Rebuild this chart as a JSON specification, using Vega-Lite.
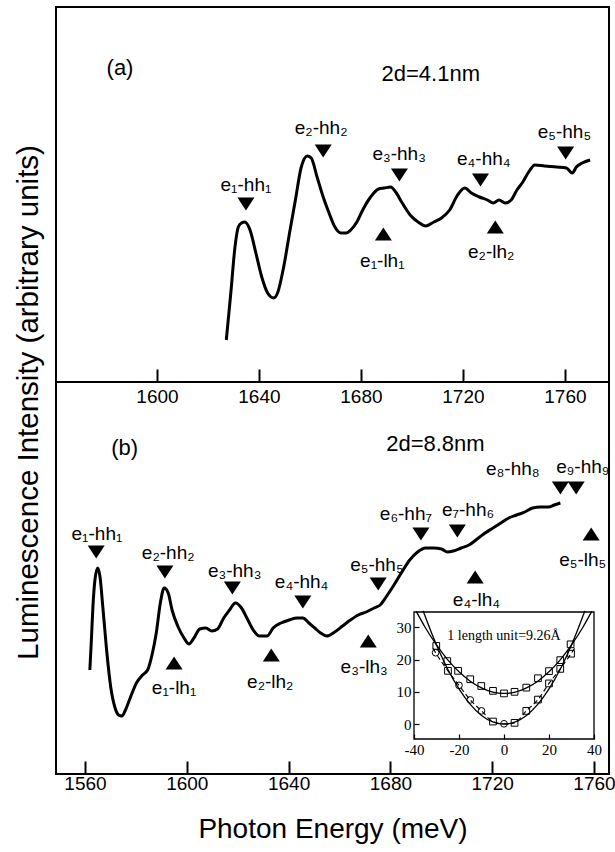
{
  "$schema": "https://vega.github.io/schema/vega-lite/v6.json",
  "padding": {"left": 12, "top": 6, "right": 0, "bottom": 4},
  "background": "white",
  "config": {
    "view": {"stroke": "black", "strokeWidth": 2},
    "font": "Liberation Sans",
    "text": {"font": "Liberation Sans", "color": "black"}
  },
  "datasets": {
    "curveA": [
      {"e": 1627.2, "v": 42}, {"e": 1629.0, "v": 90}, {"e": 1630.6, "v": 135}, {"e": 1631.9, "v": 155}, {"e": 1633.2, "v": 159}, {"e": 1634.4, "v": 160},
      {"e": 1636.5, "v": 152}, {"e": 1638.8, "v": 129}, {"e": 1641.1, "v": 105}, {"e": 1643.4, "v": 89}, {"e": 1645.8, "v": 84}, {"e": 1647.3, "v": 89},
      {"e": 1649.7, "v": 115}, {"e": 1652.0, "v": 149}, {"e": 1654.3, "v": 182}, {"e": 1656.6, "v": 215}, {"e": 1659.0, "v": 226}, {"e": 1660.5, "v": 224},
      {"e": 1662.8, "v": 205}, {"e": 1665.2, "v": 185}, {"e": 1667.5, "v": 169}, {"e": 1669.8, "v": 155}, {"e": 1672.2, "v": 149}, {"e": 1674.2, "v": 149},
      {"e": 1676.0, "v": 152}, {"e": 1678.4, "v": 160}, {"e": 1680.7, "v": 172}, {"e": 1683.8, "v": 185}, {"e": 1686.9, "v": 193}, {"e": 1689.2, "v": 194},
      {"e": 1691.6, "v": 195}, {"e": 1693.9, "v": 189}, {"e": 1696.2, "v": 179}, {"e": 1699.3, "v": 167}, {"e": 1702.4, "v": 160}, {"e": 1705.5, "v": 156},
      {"e": 1708.6, "v": 160}, {"e": 1711.6, "v": 164}, {"e": 1714.8, "v": 172}, {"e": 1717.9, "v": 187}, {"e": 1720.7, "v": 194}, {"e": 1723.3, "v": 189},
      {"e": 1726.5, "v": 185}, {"e": 1729.6, "v": 182}, {"e": 1731.9, "v": 179}, {"e": 1734.2, "v": 182}, {"e": 1736.6, "v": 179}, {"e": 1738.9, "v": 182},
      {"e": 1741.2, "v": 192}, {"e": 1743.5, "v": 200}, {"e": 1745.8, "v": 210}, {"e": 1748.2, "v": 217}, {"e": 1752.0, "v": 216}, {"e": 1756.7, "v": 215},
      {"e": 1760.6, "v": 214}, {"e": 1762.9, "v": 209}, {"e": 1764.5, "v": 215}, {"e": 1766.8, "v": 219}, {"e": 1769.9, "v": 222}
    ],
    "curveB": [
      {"e": 1561.9, "v": 104}, {"e": 1562.5, "v": 134}, {"e": 1563.1, "v": 167}, {"e": 1563.9, "v": 194}, {"e": 1565.0, "v": 206}, {"e": 1565.9, "v": 197},
      {"e": 1567.0, "v": 167}, {"e": 1568.6, "v": 121}, {"e": 1570.1, "v": 87}, {"e": 1571.7, "v": 67}, {"e": 1573.2, "v": 59}, {"e": 1574.5, "v": 58},
      {"e": 1575.9, "v": 64}, {"e": 1577.9, "v": 77}, {"e": 1580.2, "v": 91}, {"e": 1582.6, "v": 99}, {"e": 1584.6, "v": 104}, {"e": 1586.5, "v": 121},
      {"e": 1588.0, "v": 141}, {"e": 1589.6, "v": 171}, {"e": 1591.1, "v": 186}, {"e": 1592.7, "v": 181}, {"e": 1594.2, "v": 164}, {"e": 1596.6, "v": 147},
      {"e": 1598.9, "v": 136}, {"e": 1600.8, "v": 130}, {"e": 1602.8, "v": 136}, {"e": 1605.1, "v": 145}, {"e": 1607.5, "v": 146}, {"e": 1609.8, "v": 143},
      {"e": 1612.1, "v": 145}, {"e": 1614.5, "v": 156}, {"e": 1616.8, "v": 164}, {"e": 1619.1, "v": 171}, {"e": 1621.5, "v": 166}, {"e": 1623.8, "v": 155},
      {"e": 1626.1, "v": 144}, {"e": 1628.5, "v": 138}, {"e": 1631.6, "v": 138}, {"e": 1633.9, "v": 146}, {"e": 1637.0, "v": 151}, {"e": 1640.2, "v": 154},
      {"e": 1643.3, "v": 156}, {"e": 1645.6, "v": 156}, {"e": 1648.0, "v": 151}, {"e": 1650.3, "v": 146}, {"e": 1652.6, "v": 141}, {"e": 1655.0, "v": 138},
      {"e": 1658.1, "v": 142}, {"e": 1661.2, "v": 148}, {"e": 1664.3, "v": 154}, {"e": 1667.4, "v": 159}, {"e": 1670.5, "v": 162}, {"e": 1673.6, "v": 166},
      {"e": 1676.0, "v": 169}, {"e": 1678.3, "v": 177}, {"e": 1681.4, "v": 189}, {"e": 1684.5, "v": 202}, {"e": 1687.6, "v": 214}, {"e": 1690.7, "v": 222},
      {"e": 1693.8, "v": 226}, {"e": 1697.0, "v": 226}, {"e": 1700.1, "v": 225}, {"e": 1702.4, "v": 222}, {"e": 1704.7, "v": 223}, {"e": 1707.8, "v": 226},
      {"e": 1710.9, "v": 229}, {"e": 1714.1, "v": 235}, {"e": 1717.2, "v": 241}, {"e": 1720.3, "v": 246}, {"e": 1723.4, "v": 251}, {"e": 1726.5, "v": 256},
      {"e": 1729.6, "v": 259}, {"e": 1732.8, "v": 262}, {"e": 1735.9, "v": 266}, {"e": 1739.0, "v": 267}, {"e": 1742.1, "v": 267}, {"e": 1744.4, "v": 269},
      {"e": 1746.8, "v": 271}
    ],
    "markA": [
      {"e": 1634.9, "v": 178, "dir": "down"}, {"e": 1665.2, "v": 231, "dir": "down"}, {"e": 1695.1, "v": 207, "dir": "down"},
      {"e": 1726.9, "v": 202, "dir": "down"}, {"e": 1760.3, "v": 229, "dir": "down"},
      {"e": 1688.8, "v": 148, "dir": "up"}, {"e": 1732.7, "v": 155, "dir": "up"}
    ],
    "labA": [
      {"e": 1634.9, "v": 197, "t": "e₁-hh₁"}, {"e": 1664.4, "v": 254, "t": "e₂-hh₂"}, {"e": 1695.0, "v": 228, "t": "e₃-hh₃"},
      {"e": 1728.2, "v": 223, "t": "e₄-hh₄"}, {"e": 1759.8, "v": 250, "t": "e₅-hh₅"},
      {"e": 1688.4, "v": 121, "t": "e₁-lh₁"}, {"e": 1731.1, "v": 130, "t": "e₂-lh₂"}
    ],
    "tagA": [
      {"e": 1585.5, "v": 314, "t": "(a)"}, {"e": 1707.4, "v": 308, "t": "2d=4.1nm"}
    ],
    "markB": [
      {"e": 1564.4, "v": 222, "dir": "down"}, {"e": 1591.4, "v": 202, "dir": "down"}, {"e": 1617.9, "v": 186, "dir": "down"},
      {"e": 1645.6, "v": 172, "dir": "down"}, {"e": 1675.2, "v": 190, "dir": "down"}, {"e": 1692.0, "v": 240, "dir": "down"},
      {"e": 1706.3, "v": 243, "dir": "down"}, {"e": 1746.8, "v": 286, "dir": "down"}, {"e": 1753.0, "v": 286, "dir": "down"},
      {"e": 1595.0, "v": 111, "dir": "up"}, {"e": 1633.2, "v": 119, "dir": "up"}, {"e": 1671.3, "v": 133, "dir": "up"},
      {"e": 1713.3, "v": 197, "dir": "up"}, {"e": 1758.9, "v": 240, "dir": "up"}
    ],
    "labB": [
      {"e": 1564.7, "v": 240, "t": "e₁-hh₁"}, {"e": 1592.7, "v": 221, "t": "e₂-hh₂"}, {"e": 1618.8, "v": 203, "t": "e₃-hh₃"},
      {"e": 1645.1, "v": 192, "t": "e₄-hh₄"}, {"e": 1674.7, "v": 209, "t": "e₅-hh₅"}, {"e": 1686.1, "v": 260, "t": "e₆-hh₇"},
      {"e": 1710.5, "v": 264, "t": "e₇-hh₆"}, {"e": 1728.1, "v": 305, "t": "e₈-hh₈"}, {"e": 1755.6, "v": 307, "t": "e₉-hh₉"},
      {"e": 1595.0, "v": 86, "t": "e₁-lh₁"}, {"e": 1632.8, "v": 92, "t": "e₂-lh₂"}, {"e": 1669.7, "v": 107, "t": "e₃-lh₃"},
      {"e": 1713.8, "v": 174, "t": "e₄-lh₄"}, {"e": 1755.6, "v": 214, "t": "e₅-lh₅"}
    ],
    "tagB": [
      {"e": 1575.6, "v": 326, "t": "(b)"}, {"e": 1697.7, "v": 330, "t": "2d=8.8nm"}
    ],
    "insetPts": [
      {"ix": -30.1, "iy": 24.2, "s": "sq"}, {"ix": -25.2, "iy": 19.5, "s": "sq"}, {"ix": -20.4, "iy": 16.5, "s": "sq"}, {"ix": -15.0, "iy": 13.9, "s": "sq"},
      {"ix": -10.1, "iy": 11.8, "s": "sq"}, {"ix": -4.9, "iy": 10.3, "s": "sq"}, {"ix": 0, "iy": 9.5, "s": "sq"}, {"ix": 4.7, "iy": 10.0, "s": "sq"},
      {"ix": 9.9, "iy": 11.3, "s": "sq"}, {"ix": 15.1, "iy": 14.2, "s": "sq"}, {"ix": 20.0, "iy": 16.4, "s": "sq"}, {"ix": 25.0, "iy": 19.8, "s": "sq"},
      {"ix": 29.6, "iy": 24.7, "s": "sq"},
      {"ix": -30.4, "iy": 22.1, "s": "ci"}, {"ix": -24.9, "iy": 16.5, "s": "sq"}, {"ix": -20.0, "iy": 12.0, "s": "ci"}, {"ix": -15.0, "iy": 7.5, "s": "ci"},
      {"ix": -10.0, "iy": 4.1, "s": "ci"}, {"ix": -4.9, "iy": 0.8, "s": "sq"}, {"ix": 0, "iy": 0.1, "s": "ci"}, {"ix": 4.7, "iy": 0.4, "s": "sq"},
      {"ix": 9.9, "iy": 4.1, "s": "sq"}, {"ix": 15.1, "iy": 7.6, "s": "sq"}, {"ix": 20.0, "iy": 12.6, "s": "sq"}, {"ix": 25.0, "iy": 17.1, "s": "sq"},
      {"ix": 29.8, "iy": 21.8, "s": "sq"}
    ],
    "insetFit": [
      {"ix": -35.9, "iy": 35.0, "g": "low"}, {"ix": -35, "iy": 33.3, "g": "low"}, {"ix": -30, "iy": 24.5, "g": "low"}, {"ix": -25, "iy": 17.0, "g": "low"},
      {"ix": -20, "iy": 10.9, "g": "low"}, {"ix": -15, "iy": 6.1, "g": "low"}, {"ix": -10, "iy": 2.7, "g": "low"}, {"ix": -5, "iy": 0.7, "g": "low"},
      {"ix": 0, "iy": 0, "g": "low"}, {"ix": 5, "iy": 0.7, "g": "low"}, {"ix": 10, "iy": 2.7, "g": "low"}, {"ix": 15, "iy": 6.1, "g": "low"},
      {"ix": 20, "iy": 10.9, "g": "low"}, {"ix": 25, "iy": 17.0, "g": "low"}, {"ix": 30, "iy": 24.5, "g": "low"}, {"ix": 35, "iy": 33.3, "g": "low"},
      {"ix": 35.9, "iy": 35.0, "g": "low"},
      {"ix": -39.0, "iy": 34.9, "g": "up"}, {"ix": -35, "iy": 29.9, "g": "up"}, {"ix": -30, "iy": 24.5, "g": "up"}, {"ix": -25, "iy": 19.9, "g": "up"},
      {"ix": -20, "iy": 16.2, "g": "up"}, {"ix": -15, "iy": 13.3, "g": "up"}, {"ix": -10, "iy": 11.2, "g": "up"}, {"ix": -5, "iy": 9.9, "g": "up"},
      {"ix": 0, "iy": 9.5, "g": "up"}, {"ix": 5, "iy": 9.9, "g": "up"}, {"ix": 10, "iy": 11.2, "g": "up"}, {"ix": 15, "iy": 13.3, "g": "up"},
      {"ix": 20, "iy": 16.2, "g": "up"}, {"ix": 25, "iy": 19.9, "g": "up"}, {"ix": 30, "iy": 24.5, "g": "up"}, {"ix": 35, "iy": 29.9, "g": "up"},
      {"ix": 39.0, "iy": 34.9, "g": "up"}
    ],
    "insetDash": [
      {"ix": -31.5, "iy": 23.4}, {"ix": -30.4, "iy": 22.1}, {"ix": -24.9, "iy": 16.5}, {"ix": -20.0, "iy": 12.0}, {"ix": -15.0, "iy": 7.5},
      {"ix": -10.0, "iy": 4.1}, {"ix": -4.9, "iy": 0.8}, {"ix": 0, "iy": 0.1}, {"ix": 4.7, "iy": 0.4}, {"ix": 9.9, "iy": 4.1},
      {"ix": 15.1, "iy": 7.6}, {"ix": 20.0, "iy": 12.6}, {"ix": 25.0, "iy": 17.1}, {"ix": 29.8, "iy": 21.8}, {"ix": 31.5, "iy": 23.6}
    ],
    "insetNote": [{"ix": 0, "iy": 27.3, "t": "1 length unit=9.26Å"}],
    "insetBox": [{"x0": -40, "x1": 40, "y0": -4.6, "y1": 34.7}]
  },
  "vconcat": [
    {
      "width": 553,
      "height": 375,
      "layer": [
        {
          "data": {"name": "curveA"},
          "mark": {"type": "line", "color": "black", "strokeWidth": 3, "interpolate": "monotone"},
          "encoding": {
            "x": {"field": "e", "type": "quantitative",
              "scale": {"domain": [1560.4, 1777.3], "nice": false, "zero": false},
              "axis": {"orient": "bottom", "values": [1600, 1640, 1680, 1720, 1760], "format": "d",
                "tickSize": -13, "tickWidth": 2, "tickColor": "black", "domain": false, "grid": false,
                "labelPadding": 18, "labelFontSize": 19, "labelColor": "black", "labelFont": "Liberation Sans", "title": null}},
            "y": {"field": "v", "type": "quantitative",
              "scale": {"domain": [0, 375], "nice": false, "zero": false},
              "axis": {"orient": "left", "domain": false, "ticks": false, "labels": false, "grid": false,
                "title": "Luminescence Intensity (arbitrary units)", "titleFontSize": 29.5, "titleFont": "Liberation Sans",
                "titleFontWeight": "normal", "titleColor": "black", "titleX": -28, "titleY": 395, "titleAngle": -90,
                "titleAlign": "center", "titleBaseline": "middle"}}
          }
        },
        {
          "data": {"name": "markA"},
          "mark": {"type": "point", "filled": true, "color": "black", "opacity": 1, "size": 290},
          "encoding": {
            "x": {"field": "e", "type": "quantitative"},
            "y": {"field": "v", "type": "quantitative"},
            "shape": {"field": "dir", "type": "nominal", "legend": null,
              "scale": {"domain": ["down", "up"], "range": ["M-1,-0.75L1,-0.75L0,0.75Z", "M-1,0.75L1,0.75L0,-0.75Z"]}}
          }
        },
        {
          "data": {"name": "labA"},
          "mark": {"type": "text", "fontSize": 19, "align": "center", "baseline": "middle"},
          "encoding": {
            "x": {"field": "e", "type": "quantitative"},
            "y": {"field": "v", "type": "quantitative"},
            "text": {"field": "t"}
          }
        },
        {
          "data": {"name": "tagA"},
          "mark": {"type": "text", "fontSize": 22, "align": "center", "baseline": "middle"},
          "encoding": {
            "x": {"field": "e", "type": "quantitative"},
            "y": {"field": "v", "type": "quantitative"},
            "text": {"field": "t"}
          }
        }
      ]
    },
    {
      "width": 553,
      "height": 392,
      "layer": [
        {
          "layer": [
            {
              "data": {"name": "curveB"},
              "mark": {"type": "line", "color": "black", "strokeWidth": 3, "interpolate": "monotone"},
              "encoding": {
                "x": {"field": "e", "type": "quantitative",
                  "scale": {"domain": [1548.6, 1765.9], "nice": false, "zero": false},
                  "axis": {"orient": "bottom", "values": [1560, 1600, 1640, 1680, 1720, 1760], "format": "d",
                    "tickSize": -13, "tickWidth": 2, "tickColor": "black", "domain": false, "grid": false,
                    "labelPadding": 13, "labelFontSize": 19, "labelColor": "black", "labelFont": "Liberation Sans",
                    "title": "Photon Energy (meV)", "titleFontSize": 28, "titleFont": "Liberation Sans", "titleFontWeight": "normal",
                    "titleColor": "black", "titlePadding": 22}},
                "y": {"field": "v", "type": "quantitative",
                  "scale": {"domain": [0, 392], "nice": false, "zero": false}, "axis": null}
              }
            },
            {
              "data": {"name": "markB"},
              "mark": {"type": "point", "filled": true, "color": "black", "opacity": 1, "size": 290},
              "encoding": {
                "x": {"field": "e", "type": "quantitative"},
                "y": {"field": "v", "type": "quantitative"},
                "shape": {"field": "dir", "type": "nominal", "legend": null,
                  "scale": {"domain": ["down", "up"], "range": ["M-1,-0.75L1,-0.75L0,0.75Z", "M-1,0.75L1,0.75L0,-0.75Z"]}}
              }
            },
            {
              "data": {"name": "labB"},
              "mark": {"type": "text", "fontSize": 19, "align": "center", "baseline": "middle"},
              "encoding": {
                "x": {"field": "e", "type": "quantitative"},
                "y": {"field": "v", "type": "quantitative"},
                "text": {"field": "t"}
              }
            },
            {
              "data": {"name": "tagB"},
              "mark": {"type": "text", "fontSize": 22, "align": "center", "baseline": "middle"},
              "encoding": {
                "x": {"field": "e", "type": "quantitative"},
                "y": {"field": "v", "type": "quantitative"},
                "text": {"field": "t"}
              }
            }
          ]
        },
        {
          "layer": [
            {
              "data": {"name": "insetBox"},
              "mark": {"type": "rect", "fill": "white", "fillOpacity": 0, "stroke": "black", "strokeWidth": 1.3},
              "encoding": {
                "x": {"field": "x0", "type": "quantitative",
                  "scale": {"domain": [-40, 40], "range": [358, 538], "nice": false, "zero": false},
                  "axis": {"orient": "bottom", "offset": -35, "values": [-40, -20, 0, 20, 40], "labelExpr": "'' + datum.value",
                    "tickSize": -5, "tickColor": "black", "tickWidth": 1.2, "domain": false, "grid": false, "labelFlush": false,
                    "labelPadding": 8, "labelFontSize": 15, "labelFont": "Liberation Serif", "labelColor": "black", "title": null}},
                "x2": {"field": "x1"},
                "y": {"field": "y0", "type": "quantitative",
                  "scale": {"domain": [-4.6, 34.7], "range": [357, 230], "nice": false, "zero": false},
                  "axis": {"orient": "left", "offset": -358, "values": [0, 10, 20, 30], "labelExpr": "'' + datum.value",
                    "tickSize": -5, "tickColor": "black", "tickWidth": 1.2, "domain": false, "grid": false, "labelFlush": false,
                    "labelPadding": 8, "labelFontSize": 15, "labelFont": "Liberation Serif", "labelColor": "black", "title": null}},
                "y2": {"field": "y1"}
              }
            },
            {
              "data": {"name": "insetFit"},
              "mark": {"type": "line", "color": "black", "strokeWidth": 1.3, "interpolate": "monotone"},
              "encoding": {
                "x": {"field": "ix", "type": "quantitative"},
                "y": {"field": "iy", "type": "quantitative"},
                "detail": {"field": "g"}
              }
            },
            {
              "data": {"name": "insetDash"},
              "mark": {"type": "line", "color": "black", "strokeWidth": 1.1, "strokeDash": [5, 3], "interpolate": "monotone"},
              "encoding": {
                "x": {"field": "ix", "type": "quantitative"},
                "y": {"field": "iy", "type": "quantitative"}
              }
            },
            {
              "data": {"name": "insetPts"},
              "mark": {"type": "point", "filled": false, "color": "black", "strokeWidth": 1, "size": 45, "opacity": 1},
              "encoding": {
                "x": {"field": "ix", "type": "quantitative"},
                "y": {"field": "iy", "type": "quantitative"},
                "shape": {"field": "s", "type": "nominal", "legend": null,
                  "scale": {"domain": ["sq", "ci"], "range": ["square", "circle"]}}
              }
            },
            {
              "data": {"name": "insetNote"},
              "mark": {"type": "text", "font": "Liberation Serif", "fontSize": 14, "align": "center", "baseline": "middle"},
              "encoding": {
                "x": {"field": "ix", "type": "quantitative"},
                "y": {"field": "iy", "type": "quantitative"},
                "text": {"field": "t"}
              }
            }
          ]
        }
      ],
      "resolve": {"scale": {"x": "independent", "y": "independent", "shape": "independent"}, "axis": {"x": "independent", "y": "independent"}}
    }
  ],
  "spacing": 0,
  "bounds": "flush"
}
